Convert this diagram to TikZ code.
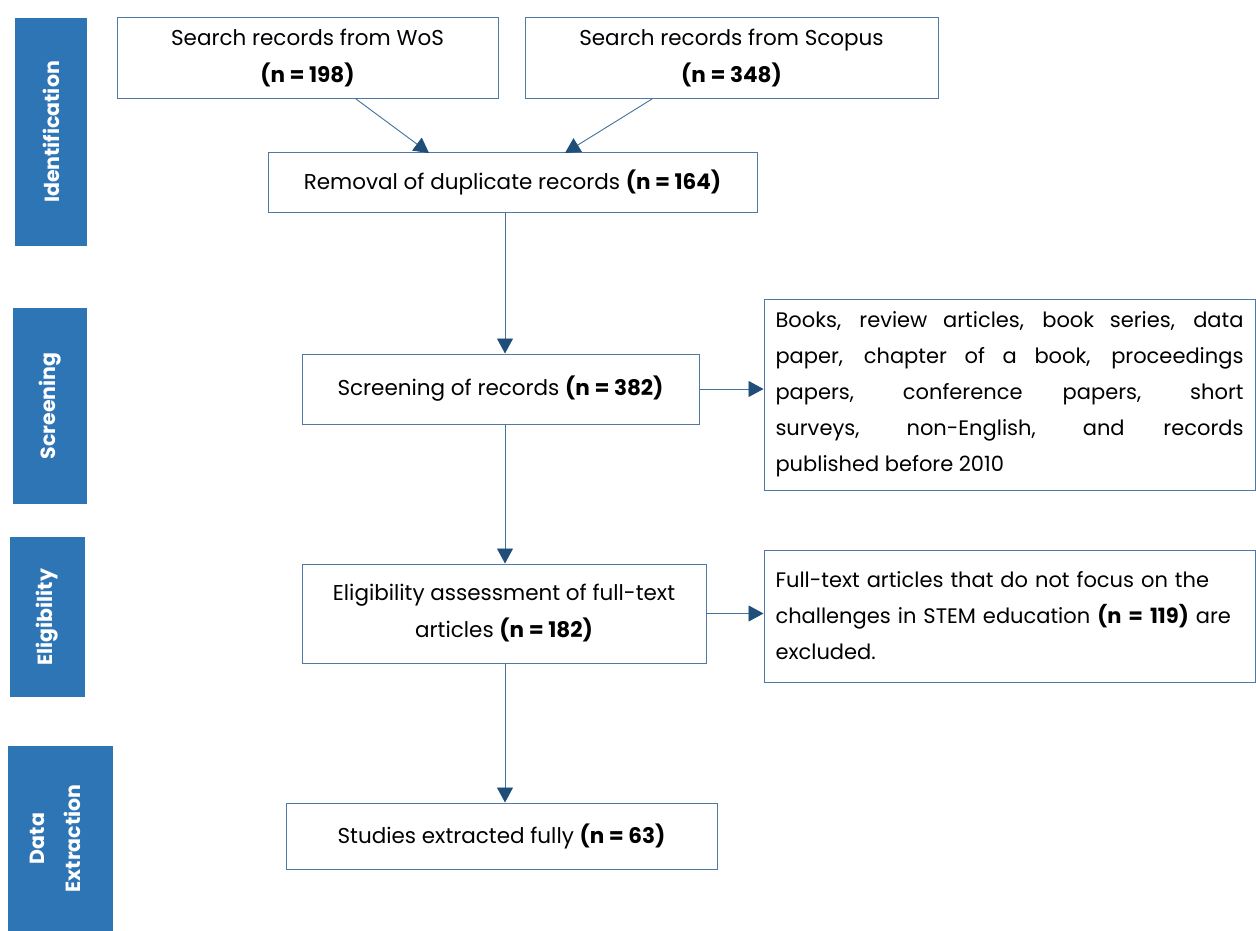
\documentclass[tikz,border=0pt]{standalone}
\usepackage{fontspec}
\setmainfont{Poppins}
\usetikzlibrary{arrows.meta}
\definecolor{barblue}{HTML}{2E75B6}
\definecolor{boxline}{HTML}{5078A6}
\definecolor{arrowline}{HTML}{41719C}
\definecolor{tipblue}{HTML}{1F4E79}
\begin{document}
\begin{tikzpicture}[x=1pt,y=-1pt,
  box/.style={draw=boxline, line width=1pt, fill=white, inner sep=4pt, font=\fontsize{21.5}{37}\selectfont, align=center},
  bar/.style={fill=barblue, draw=none},
  barlabel/.style={text=white, font=\fontsize{20.5}{36}\selectfont\bfseries, rotate=90, align=center},
  conn/.style={draw=arrowline, line width=0.9pt, -{Triangle[length=15pt,width=16pt,color=tipblue]}}]
\useasboundingbox (0,0) rectangle (1256,931);
% side bars
\node[bar, minimum width=72pt, minimum height=228pt] (b1) at (51,132) {};
\node[barlabel] (l1) at (b1.center) {Identification};
\node[bar, minimum width=74pt, minimum height=196pt] (b2) at (50,406) {};
\node[barlabel] (l2) at (b2.center) {Screening};
\node[bar, minimum width=75pt, minimum height=160pt] (b3) at (47.5,617) {};
\node[barlabel] (l3) at (b3.center) {Eligibility};
\node[bar, minimum width=105pt, minimum height=185pt] (b4) at (60.5,838.5) {};
\node[barlabel] (l4) at (55,838.5) {Data\\Extraction};
% boxes
\node[box, minimum width=381pt, minimum height=81pt] (wos) at (307.5,58.5) {Search records from WoS\\ \textbf{(n = 198)}};
\node[box, minimum width=413pt, minimum height=81pt] (sco) at (731.5,58.5) {Search records from Scopus\\ \textbf{(n = 348)}};
\node[box, minimum width=489pt, minimum height=59pt] (rem) at (512.5,182.5) {Removal of duplicate records \textbf{(n = 164)}};
\node[box, minimum width=397pt, minimum height=70pt] (scr) at (500.5,389) {Screening of records \textbf{(n = 382)}};
\node[box, minimum width=404pt, minimum height=99pt] (eli) at (504,613.5) {Eligibility assessment of full-text\\ articles \textbf{(n = 182)}};
\node[box, minimum width=431pt, minimum height=66pt] (stu) at (501.5,836) {Studies extracted fully \textbf{(n = 63)}};
\node[box, font=\fontsize{21}{36}\selectfont, minimum width=491pt, minimum height=191pt, text width=468pt, align=justify] (ex1) at (1009.5,394.5)
 {Books, review articles, book series, data\linebreak paper, chapter of a book, proceedings\linebreak papers, conference papers, short\linebreak surveys, non-English, and records\linebreak published before 2010};
\node[box, font=\fontsize{21}{36}\selectfont, minimum width=491pt, minimum height=132pt, text width=468pt, align=left] (ex2) at (1009.5,616)
 {Full-text articles that do not focus on the\\ challenges in STEM education \textbf{(n = 119)} are\\ excluded.};
% connectors
\coordinate (w1) at (356,99);
\coordinate (w2) at (429,153);
\coordinate (s1) at (652,99);
\coordinate (s2) at (565,153);
\draw[conn] (w1) -- (w2);
\draw[conn] (s1) -- (s2);
\draw[conn] (rem.south -| 505,0) -- (scr.north -| 505,0);
\draw[conn] (scr.east) -- (scr.east -| ex1.west);
\draw[conn] (scr.south -| 505,0) -- (eli.north -| 505,0);
\draw[conn] (eli.east) -- (eli.east -| ex2.west);
\draw[conn] (eli.south -| 505,0) -- (stu.north -| 505,0);
\end{tikzpicture}
\end{document}
